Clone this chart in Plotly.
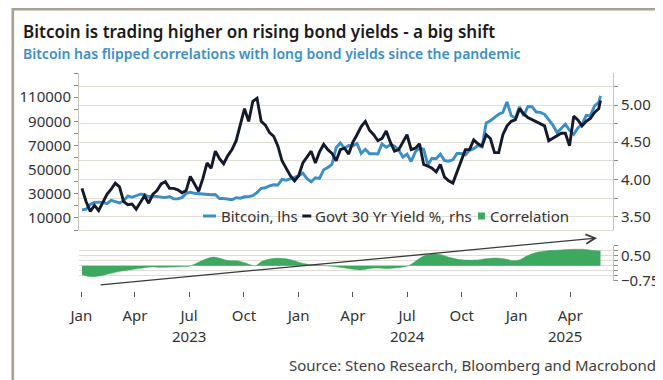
import plotly.graph_objects as go
import pandas as pd

# ---------------- data ----------------
week_start = "2023-01-02"
last_date = "2025-05-22"

btc_2023 = [16700, 17200, 21100, 22900, 23000, 22900, 21800, 24600, 23500, 22400,
            24100, 28200, 27100, 28200, 29700, 29400, 27500, 28100, 27700, 27200,
            26800, 27700, 25800, 25900, 26800, 30300, 31200, 30400, 30100, 29200,
            29200, 29200, 29400, 26100, 26100, 25800, 25100, 26800, 26300, 27500,
            27600, 28500, 31000, 34500, 35000, 36500, 37400, 37200, 41900, 41200,
            42700, 43600]
btc_2024 = [45000, 47000, 42500, 39800, 43300, 42700, 49900, 51800, 54500, 68300,
            72100, 67600, 70000, 69700, 71600, 63400, 66800, 63100, 63200, 62900,
            71400, 68500, 70500, 69600, 66500, 60300, 62900, 56700, 64800, 68000,
            66800, 54000, 59400, 59000, 62900, 57500, 57000, 58200, 63300, 63300,
            62300, 66000, 67400, 69900, 68800, 88700, 90500, 93000, 95800, 97400,
            106100, 94700, 92600]
btc_2025 = [102000, 94500, 102300, 102100, 97700, 97400, 95800, 91500, 86800, 80700,
            84000, 87500, 82500, 79200, 84500, 87500, 95000, 94700, 102800, 105600,
            111000]

yld_2023 = [3.88, 3.70, 3.57, 3.65, 3.58, 3.68, 3.80, 3.87, 3.95, 3.90,
            3.70, 3.66, 3.67, 3.60, 3.70, 3.78, 3.68, 3.80, 3.85, 3.94,
            3.97, 3.88, 3.88, 3.86, 3.82, 3.85, 4.04, 3.93, 3.84, 4.01,
            4.22, 4.15, 4.38, 4.28, 4.21, 4.32, 4.40, 4.52, 4.72, 4.95,
            4.78, 5.05, 5.09, 4.78, 4.73, 4.63, 4.58, 4.45, 4.25, 4.15,
            4.05, 3.98]
yld_2024 = [4.05, 4.22, 4.30, 4.38, 4.22, 4.37, 4.47, 4.40, 4.35, 4.25,
            4.40, 4.42, 4.34, 4.50, 4.60, 4.71, 4.78, 4.66, 4.60, 4.52,
            4.55, 4.65, 4.50, 4.38, 4.40, 4.50, 4.60, 4.40, 4.42, 4.48,
            4.20, 4.18, 4.15, 4.10, 4.20, 4.03, 3.98, 3.95, 4.10, 4.25,
            4.40, 4.40, 4.53, 4.48, 4.45, 4.60, 4.55, 4.36, 4.36, 4.60,
            4.72, 4.78, 4.80]
yld_2025 = [4.95, 4.88, 4.83, 4.80, 4.78, 4.75, 4.72, 4.52, 4.55, 4.58,
            4.62, 4.62, 4.45, 4.85, 4.80, 4.72, 4.78, 4.82, 4.90, 4.95,
            5.06]

corr_dates = ["2023-01-02", "2023-01-17", "2023-02-03", "2023-02-20", "2023-03-09",
              "2023-03-25", "2023-04-11", "2023-04-28", "2023-05-15", "2023-06-01",
              "2023-06-17", "2023-07-01", "2023-07-15", "2023-07-29", "2023-08-10",
              "2023-08-20", "2023-09-04", "2023-09-21", "2023-10-01", "2023-10-13",
              "2023-10-21", "2023-10-30", "2023-11-16", "2023-12-03", "2023-12-19",
              "2024-01-05", "2024-01-22", "2024-02-08", "2024-02-25", "2024-03-13",
              "2024-03-30", "2024-04-13", "2024-04-28", "2024-05-08", "2024-05-25",
              "2024-06-11", "2024-06-28", "2024-07-06", "2024-07-18", "2024-07-29",
              "2024-08-12", "2024-08-27", "2024-09-10", "2024-09-24", "2024-10-08",
              "2024-10-25", "2024-11-11", "2024-11-28", "2024-12-15", "2024-12-26",
              "2025-01-07", "2025-01-18", "2025-02-03", "2025-02-20", "2025-03-15",
              "2025-04-06", "2025-04-23", "2025-05-10", "2025-05-22"]
corr_values = [-0.45, -0.55, -0.50, -0.38, -0.27, -0.20, -0.13, -0.06, -0.08, -0.07,
               -0.05, -0.03, 0.15, 0.33, 0.43, 0.38, 0.26, 0.24, 0.16, 0.03,
               0.00, 0.20, 0.35, 0.37, 0.30, 0.14, 0.05, 0.02, -0.03, -0.09,
               -0.17, -0.21, -0.15, -0.12, -0.14, -0.11, -0.05, 0.03, 0.28, 0.48,
               0.58, 0.55, 0.42, 0.32, 0.28, 0.28, 0.35, 0.38, 0.32, 0.25,
               0.30, 0.48, 0.66, 0.74, 0.78, 0.82, 0.82, 0.76, 0.74]

month_ticks = ["2023-01-01", "2023-04-01", "2023-07-01", "2023-10-01",
               "2024-01-01", "2024-04-01", "2024-07-01", "2024-10-01",
               "2025-01-01", "2025-04-01"]
month_labels = ["Jan", "Apr", "Jul", "Oct", "Jan", "Apr", "Jul", "Oct", "Jan", "Apr"]
year_labels = ["2023", "2024", "2025"]
year_label_pos = ["2023-07-01", "2024-07-01", "2025-03-23"]

btc_ticks = [10000, 30000, 50000, 70000, 90000, 110000]
yld_ticks = [3.5, 4.0, 4.5, 5.0]
corr_ticks = [-0.75, 0.5]

title = "Bitcoin is trading higher on rising bond yields - a big shift"
subtitle = "Bitcoin has flipped correlations with long bond yields since the pandemic"
source = "Source: Steno Research, Bloomberg and Macrobond"
legend_names = ["Bitcoin, lhs", "Govt 30 Yr Yield %, rhs", "Correlation"]

# ---------------- build series ----------------
btc = btc_2023 + btc_2024 + btc_2025
yld = yld_2023 + yld_2024 + yld_2025
n_weeks = len(btc) - 1
dates = list(pd.date_range(week_start, periods=n_weeks, freq="7D")) + [pd.Timestamp(last_date)]

# ---------------- layout geometry ----------------
W, H = 663, 380
ML, MR, MT, MB = 68, 57, 65, 97
PW = W - ML - MR
PH = H - MT - MB


def px(x):
    return (x - ML) / PW


def py(y):
    return (H - MB - y) / PH


FONT = "Noto Sans"
BLUE = "#3a8fc6"
NAVY = "#141a2c"
GREEN = "#3da860"
GRID = "#e1ddd4"
AXIS = "#c8c3ba"
TXT = "#333333"

fig = go.Figure()
fig.add_trace(go.Scatter(x=dates, y=btc, mode="lines", name=legend_names[0],
                         line=dict(color=BLUE, width=2.9), xaxis="x", yaxis="y"))
fig.add_trace(go.Scatter(x=dates, y=yld, mode="lines", name=legend_names[1],
                         line=dict(color=NAVY, width=2.9), xaxis="x", yaxis="y2"))
fig.add_trace(go.Scatter(x=pd.to_datetime(corr_dates), y=corr_values, mode="lines",
                         name=legend_names[2], fill="tozeroy", fillcolor=GREEN,
                         line=dict(color=GREEN, width=0.5, shape="spline", smoothing=0.8),
                         xaxis="x2", yaxis="y3"))

xr = ["2022-12-28", "2025-06-12"]
fig.update_layout(
    width=W, height=H,
    margin=dict(l=ML, r=MR, t=MT, b=MB),
    paper_bgcolor="white", plot_bgcolor="white",
    showlegend=False,
    font=dict(family=FONT, size=14, color=TXT),
    xaxis=dict(domain=[0, 1], anchor="y", range=xr, showticklabels=False, ticks="",
               showgrid=False, showline=True, linecolor=GRID, linewidth=1, zeroline=False),
    xaxis2=dict(domain=[0, 1], anchor="free", position=0, matches="x", range=xr,
                tickmode="array", tickvals=pd.to_datetime(month_ticks), ticktext=month_labels,
                ticks="outside", ticklen=5, tickwidth=1.3, tickcolor="#555555",
                showline=False, showgrid=False, zeroline=False,
                tickfont=dict(size=15, color=TXT), ticklabelstandoff=6),
    yaxis=dict(domain=[py(222), 1], anchor="x", range=[0, 130000],
               tickmode="array", tickvals=btc_ticks, tickformat="d",
               ticks="outside", ticklen=4, tickcolor="#8a8a8a",
               minor=dict(dtick=10000, tick0=0, ticks="outside", ticklen=4, tickcolor="#8a8a8a"),
               showline=True, linecolor=AXIS, showgrid=False, zeroline=False,
               tickfont=dict(size=15, color=TXT)),
    yaxis2=dict(overlaying="y", side="right", anchor="x", range=[3.32, 5.43],
                tickmode="array", tickvals=yld_ticks, tickformat=".2f",
                ticks="outside", ticklen=4, tickcolor="#8a8a8a",
                minor=dict(dtick=0.25, tick0=3.25, ticks="outside", ticklen=4,
                           tickcolor="#8a8a8a", showgrid=True, gridcolor=GRID),
                showgrid=True, gridcolor=GRID, showline=True, linecolor=AXIS, zeroline=False,
                tickfont=dict(size=15, color=TXT)),
    yaxis3=dict(domain=[py(272.7), py(237.7)], anchor="x2", side="right", range=[-0.75, 1.0],
                tickmode="array", tickvals=corr_ticks, tickformat=".2f",
                ticks="outside", ticklen=4, tickcolor="#8a8a8a",
                minor=dict(dtick=0.25, tick0=-0.75, ticks="outside", ticklen=4,
                           tickcolor="#8a8a8a", showgrid=True, gridcolor=GRID),
                showgrid=True, gridcolor=GRID, showline=True, linecolor=AXIS, zeroline=False,
                tickfont=dict(size=15, color=TXT)),
)

ann = []
ann.append(dict(xref="paper", yref="paper", x=px(9.5), y=py(24), xanchor="left", yanchor="middle",
                text=title, showarrow=False,
                font=dict(family=FONT, size=17, color="#1a1a1a", weight=600)))
ann.append(dict(xref="paper", yref="paper", x=px(9.5), y=py(46), xanchor="left", yanchor="middle",
                text=subtitle, showarrow=False,
                font=dict(family=FONT, size=14, color=BLUE, weight=600)))
ann.append(dict(xref="paper", yref="paper", x=px(651), y=py(357), xanchor="right", yanchor="middle",
                text=source, showarrow=False, font=dict(family=FONT, size=15, color="#404040")))
for lbl, pos in zip(year_labels, year_label_pos):
    ann.append(dict(xref="x2", yref="paper", x=pos, y=py(328), xanchor="center", yanchor="middle",
                    text=lbl, showarrow=False, font=dict(family=FONT, size=15, color=TXT)))
# legend texts
for lbl, xpos in zip(legend_names, [209, 303.5, 480]):
    ann.append(dict(xref="paper", yref="paper", x=px(xpos), y=py(208), xanchor="left",
                    yanchor="middle", text=lbl, showarrow=False,
                    font=dict(family=FONT, size=15, color=TXT)))
# trend arrow
ann.append(dict(xref="paper", yref="paper", x=px(590), y=py(230), ax=92 - 590, ay=277 - 230,
                axref="pixel", ayref="pixel", text="", showarrow=True, arrowhead=5,
                arrowsize=1.4, arrowwidth=1.3, arrowcolor="#3a3a3a", standoff=0))
fig.update_layout(annotations=ann)

shapes = []
# legend symbols
shapes.append(dict(type="line", xref="paper", yref="paper", x0=px(193), x1=px(206),
                   y0=py(208), y1=py(208), line=dict(color=BLUE, width=3)))
shapes.append(dict(type="line", xref="paper", yref="paper", x0=px(293), x1=px(302),
                   y0=py(208), y1=py(208), line=dict(color=NAVY, width=3)))
shapes.append(dict(type="rect", xref="paper", yref="paper", x0=px(470), x1=px(477),
                   y0=py(211.5), y1=py(204.5), line=dict(width=0), fillcolor=GREEN))
# outer frame
shapes.append(dict(type="rect", xref="paper", yref="paper", x0=px(1.3), x1=px(661.7),
                   y0=py(378.7), y1=py(1.3), line=dict(color="#aaa290", width=2.6)))
fig.update_layout(shapes=shapes)

fig.write_html("out.html")
